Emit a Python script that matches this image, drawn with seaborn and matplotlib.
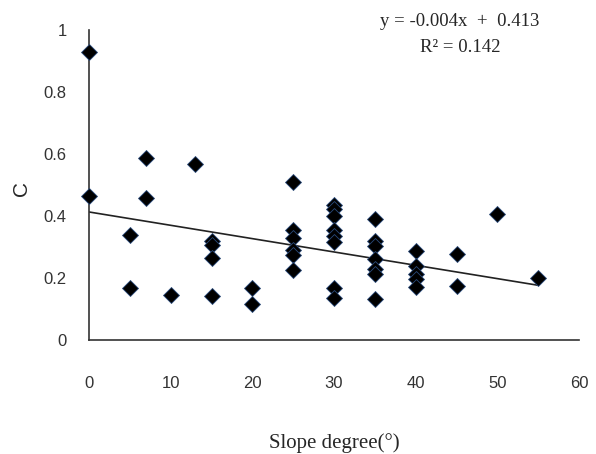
import numpy as np
import pandas as pd
import matplotlib
matplotlib.use("Agg")
import matplotlib.pyplot as plt
import seaborn as sns

slope = [0, 0, 5, 5, 7, 7, 10, 13, 15, 15, 15, 15, 20, 20,
         25, 25, 25, 25, 25, 25,
         30, 30, 30, 30, 30, 30, 30, 30,
         35, 35, 35, 35, 35, 35, 35,
         40, 40, 40, 40, 40,
         45, 45, 50, 55]
c_vals = [0.929, 0.465, 0.339, 0.168, 0.587, 0.458, 0.145, 0.568, 0.318, 0.306, 0.265, 0.143, 0.169, 0.116,
          0.51, 0.355, 0.328, 0.29, 0.274, 0.226,
          0.435, 0.422, 0.40, 0.355, 0.335, 0.317, 0.169, 0.134,
          0.391, 0.319, 0.303, 0.261, 0.228, 0.213, 0.133,
          0.288, 0.238, 0.212, 0.196, 0.172,
          0.277, 0.174, 0.405, 0.199]
fit_slope = -0.0043
fit_intercept = 0.413
x_ticks = [0, 10, 20, 30, 40, 50, 60]
y_ticks = [0, 0.2, 0.4, 0.6, 0.8, 1]
y_tick_labels = ["0", "0.2", "0.4", "0.6", "0.8", "1"]
equation = "y = -0.004x  +  0.413"
r2_text = "R² = 0.142"

df = pd.DataFrame({"slope": slope, "C": c_vals})
fit_x = np.array([min(slope), max(slope)])
fit_df = pd.DataFrame({"slope": fit_x, "C": fit_intercept + fit_slope * fit_x})

sns.set_theme(style="white")
plt.rcParams['font.family'] = ['Liberation Sans Narrow', 'Liberation Sans', 'DejaVu Sans']

fig = plt.figure(figsize=(5.96, 4.54), dpi=100)
ax = fig.add_axes([89/596, 1-340/454, (579-89)/596, 310/454])

sns.lineplot(data=fit_df, x="slope", y="C", ax=ax, color="#222222", linewidth=1.2, zorder=2)
sns.scatterplot(data=df, x="slope", y="C", ax=ax, marker="D", s=66, color="black",
                edgecolor="#2a4a7a", linewidth=0.6, alpha=1, zorder=3, clip_on=False)

ax.set_xlim(0, 60)
ax.set_ylim(0, 1)
ax.set_xticks(x_ticks)
ax.set_xticklabels([str(t) for t in x_ticks])
ax.set_yticks(y_ticks)
ax.set_yticklabels(y_tick_labels)
ax.tick_params(axis="both", length=0, labelsize=12, colors="#333333")
ax.tick_params(axis="x", pad=26)
ax.tick_params(axis="y", pad=16)
for s in ["top", "right"]:
    ax.spines[s].set_visible(False)
for s in ["left", "bottom"]:
    ax.spines[s].set_color("#333333")
    ax.spines[s].set_linewidth(1.2)

ax.set_xlabel("Slope degree(°)", family=["Liberation Serif", "DejaVu Serif"], fontsize=15, labelpad=30)
ax.set_ylabel("")
fig.text(22/596, 1-188/454, "C", rotation=90, ha="center", va="center", fontsize=15)

fig.text(460/596, 1-21/454, equation, ha="center", va="center", fontsize=13.5,
         family=["Liberation Serif", "DejaVu Serif"])
fig.text(460/596, 1-47/454, r2_text, ha="center", va="center", fontsize=13.5,
         family=["Liberation Serif", "DejaVu Serif"])

fig.savefig("out.png", dpi=100)
